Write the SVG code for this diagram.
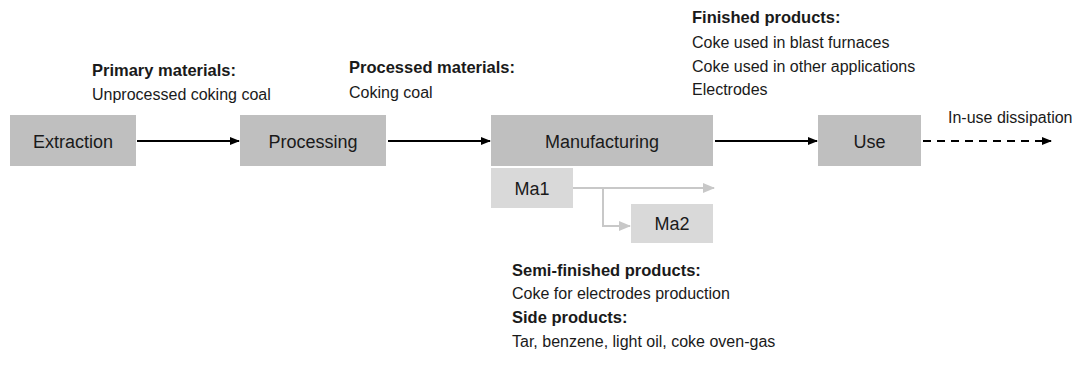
<svg xmlns="http://www.w3.org/2000/svg" width="1080" height="365" viewBox="0 0 1080 365">
<style>
.box{fill:#bfbfbf}
.sub{fill:#d9d9d9}
.lbl{font-family:"Liberation Sans",Arial,sans-serif;font-size:18px;fill:#1a1a1a;text-anchor:middle}
.t{font-family:"Liberation Sans",Arial,sans-serif;font-size:16px;fill:#1a1a1a}
.b{font-family:"Liberation Sans",Arial,sans-serif;font-size:16.5px;font-weight:bold;fill:#1a1a1a}
.c{stroke:#000;stroke-width:2;fill:none}
.g{stroke:#c8c8c8;stroke-width:2;fill:none}
</style>
<defs>
<marker id="ah" markerWidth="10" markerHeight="8" refX="9" refY="4" orient="auto" markerUnits="userSpaceOnUse">
<path d="M0,0 L10,4 L0,8 z" fill="#000"/>
</marker>
<marker id="ahg" markerWidth="12" markerHeight="10" refX="11" refY="5" orient="auto" markerUnits="userSpaceOnUse">
<path d="M0,0 L12,5 L0,10 z" fill="#c8c8c8"/>
</marker>
</defs>
<g id="connectors">
<line class="c" x1="137" y1="141" x2="239" y2="141" marker-end="url(#ah)"/>
<line class="c" x1="388" y1="141" x2="490" y2="141" marker-end="url(#ah)"/>
<line class="c" x1="715" y1="141" x2="817" y2="141" marker-end="url(#ah)"/>
<line class="c" x1="923" y1="141" x2="1051" y2="141" stroke-dasharray="8,6" marker-end="url(#ah)"/>
<line class="g" x1="573" y1="188" x2="714" y2="188" marker-end="url(#ahg)"/>
<polyline class="g" points="603,188 603,226 630,226" marker-end="url(#ahg)"/>
</g>
<g id="extraction"><rect class="box" x="10" y="115" width="126" height="51"/><text class="lbl" x="73" y="148">Extraction</text></g>
<g id="processing"><rect class="box" x="240" y="115" width="146" height="51"/><text class="lbl" x="313" y="148">Processing</text></g>
<g id="manufacturing"><rect class="box" x="491" y="115" width="222" height="51"/><text class="lbl" x="602" y="148">Manufacturing</text></g>
<g id="use"><rect class="box" x="818" y="115" width="103" height="51"/><text class="lbl" x="869.500" y="148">Use</text></g>
<g id="ma1"><rect class="sub" x="491" y="168" width="82" height="40"/><text class="lbl" x="532" y="195">Ma1</text></g>
<g id="ma2"><rect class="sub" x="631" y="204" width="82" height="39"/><text class="lbl" x="672" y="230">Ma2</text></g>
<g id="labels">
<text class="b" x="92" y="76">Primary materials:</text>
<text class="t" x="92" y="100">Unprocessed coking coal</text>
<text class="b" x="349" y="73">Processed materials:</text>
<text class="t" x="349" y="98">Coking coal</text>
<text class="b" x="692" y="23">Finished products:</text>
<text class="t" x="692" y="48">Coke used in blast furnaces</text>
<text class="t" x="692" y="72">Coke used in other applications</text>
<text class="t" x="692" y="95">Electrodes</text>
<text class="t" x="948" y="123">In-use dissipation</text>
<text class="b" x="512" y="276">Semi-finished products:</text>
<text class="t" x="512" y="299">Coke for electrodes production</text>
<text class="b" x="512" y="323">Side products:</text>
<text class="t" x="512" y="347">Tar, benzene, light oil, coke oven-gas</text>
</g>
</svg>
